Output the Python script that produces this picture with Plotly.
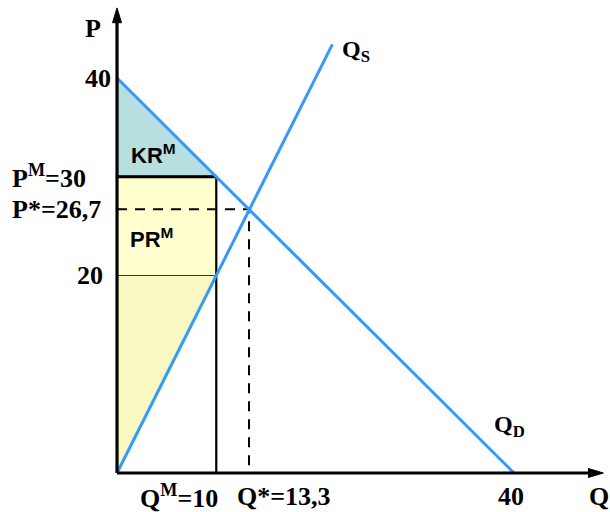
import plotly.graph_objects as go

# market data
q_demand = [0, 40]
p_demand = [40, 0]
q_supply = [0, 21.7]
p_supply = [0, 43.4]

q_m, p_m = 10, 30          # monopoly quantity / price
q_eq, p_eq = 13.3, 26.7    # competitive equilibrium
p_s_at_qm = 20             # supply price at Q^M

# areas
kr_q = [0, 0, q_m]
kr_p = [40, p_m, p_m]
pr_rect_q = [0, q_m, q_m, 0]
pr_rect_p = [p_m, p_m, p_s_at_qm, p_s_at_qm]
pr_tri_q = [0, q_m, 0]
pr_tri_p = [0, p_s_at_qm, p_s_at_qm]

y_labels = ["40", "P<sup>M</sup>=30", "P*=26,7", "20"]
y_label_vals = [40, p_m, p_eq, p_s_at_qm]
x_labels = ["Q<sup>M</sup>=10", "Q*=13,3", "40"]
x_label_vals = [q_m, q_eq, 40]

BLUE = "#3399ff"
SERIF = "Liberation Serif"
SANS = "Liberation Sans"

fig = go.Figure()

fig.add_trace(go.Scatter(x=kr_q, y=kr_p, fill="toself", fillcolor="#b8dfe0",
                         line=dict(width=0), mode="lines", hoverinfo="skip"))
fig.add_trace(go.Scatter(x=pr_rect_q, y=pr_rect_p, fill="toself", fillcolor="#ffffd0",
                         line=dict(width=0), mode="lines", hoverinfo="skip"))
fig.add_trace(go.Scatter(x=pr_tri_q, y=pr_tri_p, fill="toself", fillcolor="#f9f7c2",
                         line=dict(color="#222222", width=1.2), mode="lines", hoverinfo="skip"))

# monopoly lines
fig.add_trace(go.Scatter(x=[0, q_m], y=[p_s_at_qm, p_s_at_qm], mode="lines",
                         line=dict(color="#333333", width=1.2), hoverinfo="skip"))
fig.add_trace(go.Scatter(x=[0, q_m, q_m], y=[p_m, p_m, 0], mode="lines",
                         line=dict(color="black", width=2.2), hoverinfo="skip"))
fig.add_trace(go.Scatter(x=[0, q_m], y=[p_m, p_m], mode="lines",
                         line=dict(color="black", width=3), hoverinfo="skip"))

# equilibrium dashed lines
fig.add_trace(go.Scatter(x=[0, q_eq, q_eq], y=[p_eq, p_eq, 0], mode="lines",
                         line=dict(color="black", width=2, dash="10px,8px"), hoverinfo="skip"))

# demand and supply
fig.add_trace(go.Scatter(x=q_demand, y=p_demand, mode="lines",
                         line=dict(color=BLUE, width=3), hoverinfo="skip"))
fig.add_trace(go.Scatter(x=q_supply, y=p_supply, mode="lines",
                         line=dict(color=BLUE, width=3), hoverinfo="skip"))

# axes with arrows
fig.add_shape(type="line", x0=0, y0=0, x1=0, y1=46, line=dict(color="black", width=3.2))
fig.add_shape(type="line", x0=0, y0=0, x1=47.8, y1=0, line=dict(color="black", width=3.2))
fig.add_shape(type="path", path="M 0,47.1 L -0.45,45.6 L 0.45,45.6 Z",
              fillcolor="black", line=dict(color="black", width=1))
fig.add_shape(type="path", path="M 49.0,0 L 47.5,0.45 L 47.5,-0.45 Z",
              fillcolor="black", line=dict(color="black", width=1))

ann = []
lab_font = dict(family=SERIF, size=26, color="black")
y_shifts = [-4, -29, -14, -12]
for txt, v, xs in zip(y_labels, y_label_vals, y_shifts):
    ann.append(dict(x=0, y=v, text="<b>" + txt + "</b>", showarrow=False,
                    xanchor="right", yanchor="middle", xshift=xs, font=lab_font))
x_anchors = ["right", "left", "center"]
x_shifts = [4, -14, -3]
for txt, v, xa, xs in zip(x_labels, x_label_vals, x_anchors, x_shifts):
    ann.append(dict(x=v, y=0, text="<b>" + txt + "</b>", showarrow=False,
                    xanchor=xa, yanchor="middle", xshift=xs, yshift=-23, font=lab_font))

ann.append(dict(x=-2.42, y=45.06, text="<b>P</b>", showarrow=False, font=lab_font))
ann.append(dict(x=48.56, y=-2.43, text="<b>Q</b>", showarrow=False, font=lab_font))
ann.append(dict(x=24.08, y=42.7, text="<b>Q<sub>S</sub></b>", showarrow=False,
                font=dict(family=SERIF, size=24, color="black")))
ann.append(dict(x=39.5, y=4.8, text="<b>Q<sub>D</sub></b>", showarrow=False,
                font=dict(family=SERIF, size=24, color="black")))
ann.append(dict(x=3.68, y=32.3, text="<b>KR<sup>M</sup></b>", showarrow=False,
                font=dict(family=SANS, size=22, color="black")))
ann.append(dict(x=3.48, y=23.8, text="<b>PR<sup>M</sup></b>", showarrow=False,
                font=dict(family=SANS, size=22, color="black")))

fig.update_layout(
    width=610, height=512,
    margin=dict(l=0, r=0, t=0, b=0),
    paper_bgcolor="white", plot_bgcolor="white",
    showlegend=False,
    annotations=ann,
    xaxis=dict(range=[-11.79, 49.67], visible=False, fixedrange=True),
    yaxis=dict(range=[-3.95, 47.9], visible=False, fixedrange=True),
)

# drop the default 8px page margin so the figure fills the window
fig.write_html("out.html", config={"displayModeBar": False},
               post_script="document.body.style.margin='0';document.body.style.overflow='hidden';")
